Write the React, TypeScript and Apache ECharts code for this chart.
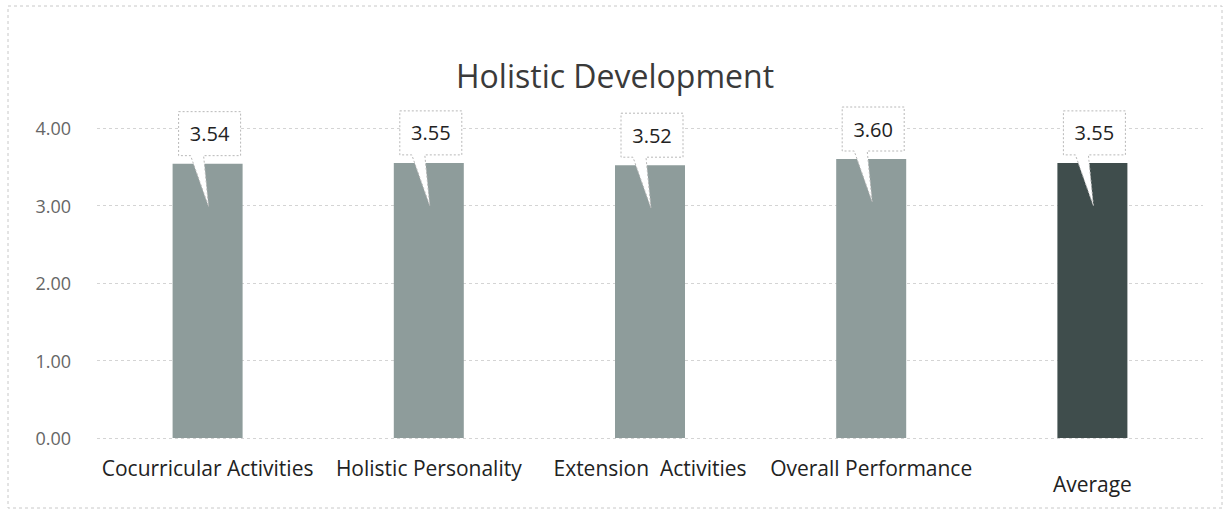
import React, { useEffect, useRef } from "react";
import * as echarts from "echarts";

const categories = [
  "Cocurricular Activities",
  "Holistic Personality",
  "Extension  Activities",
  "Overall Performance",
  "Average",
];
const values = [3.54, 3.55, 3.52, 3.6, 3.55];
const barColors = ["#8e9c9b", "#8e9c9b", "#8e9c9b", "#8e9c9b", "#3f4d4c"];
const yTicks = [0, 1, 2, 3, 4];

const FONT = "'Open Sans', 'Noto Sans', sans-serif";

export default function App() {
  const ref = useRef<HTMLDivElement>(null);
  useEffect(() => {
    if (!ref.current) return;
    const chart = echarts.init(ref.current, null, { renderer: "svg" });
    chart.setOption({
      animation: false,
      backgroundColor: "#ffffff",
      title: {
        text: "Holistic Development",
        left: "center",
        top: 54,
        textStyle: { fontFamily: FONT, fontSize: 32, fontWeight: "normal", color: "#3a3a3a" },
      },
      graphic: [
        {
          type: "rect",
          shape: { x: 8, y: 6, width: 1214, height: 502 },
          style: { fill: "none", stroke: "#c8c8c8", lineWidth: 1, lineDash: [3, 3] },
          silent: true,
        },
      ],
      grid: { left: 97, right: 27, top: 128, bottom: 78 },
      xAxis: {
        type: "category",
        data: categories,
        axisLine: { show: false },
        axisTick: { show: false },
        axisLabel: {
          fontFamily: FONT,
          fontSize: 21,
          color: "#222",
          margin: 22,
          interval: 0,
          formatter: (v: string) => (v === "Average" ? "\nAverage" : v),
          lineHeight: 16,
        },
      },
      yAxis: {
        type: "value",
        min: yTicks[0],
        max: yTicks[yTicks.length - 1],
        interval: 1,
        axisLine: { show: false },
        axisTick: { show: false },
        axisLabel: {
          fontFamily: FONT,
          fontSize: 18,
          color: "#666",
          margin: 26,
          formatter: (v: number) => v.toFixed(2),
        },
        splitLine: { lineStyle: { color: "#d4d4d4", type: [3, 3] } },
      },
      series: [
        {
          type: "bar",
          barWidth: 70,
          data: values.map((v, i) => ({ value: v, itemStyle: { color: barColors[i] } })),
          z: 2,
        },
        {
          type: "custom",
          z: 5,
          data: values.map((v, i) => [i, v]),
          encode: { x: 0, y: 1 },
          renderItem: (params: any, api: any) => {
            const idx = api.value(0);
            const val = api.value(1);
            const p = api.coord([idx, val]);
            const x = p[0];
            const y = p[1];
            const L = x - 29;
            const R = x + 33;
            const T = y - 52;
            const B = y - 8;
            return {
              type: "group",
              children: [
                {
                  type: "polygon",
                  shape: {
                    points: [
                      [L, T],
                      [R, T],
                      [R, B],
                      [x - 4, B],
                      [x + 1, y + 43],
                      [x - 17, B],
                      [L, B],
                    ],
                  },
                  style: { fill: "#ffffff", stroke: "#b8b8b8", lineWidth: 1, lineDash: [2, 2] },
                },
                {
                  type: "text",
                  style: {
                    text: val.toFixed(2),
                    x: (L + R) / 2,
                    y: (T + B) / 2,
                    align: "center",
                    verticalAlign: "middle",
                    fontFamily: FONT,
                    fontSize: 20,
                    fill: "#222",
                  },
                },
              ],
            };
          },
        },
      ],
    });
    return () => chart.dispose();
  }, []);
  return (
    <div
      ref={ref}
      style={{ position: "absolute", left: 0, top: 0, width: 1230, height: 516 }}
    />
  );
}
